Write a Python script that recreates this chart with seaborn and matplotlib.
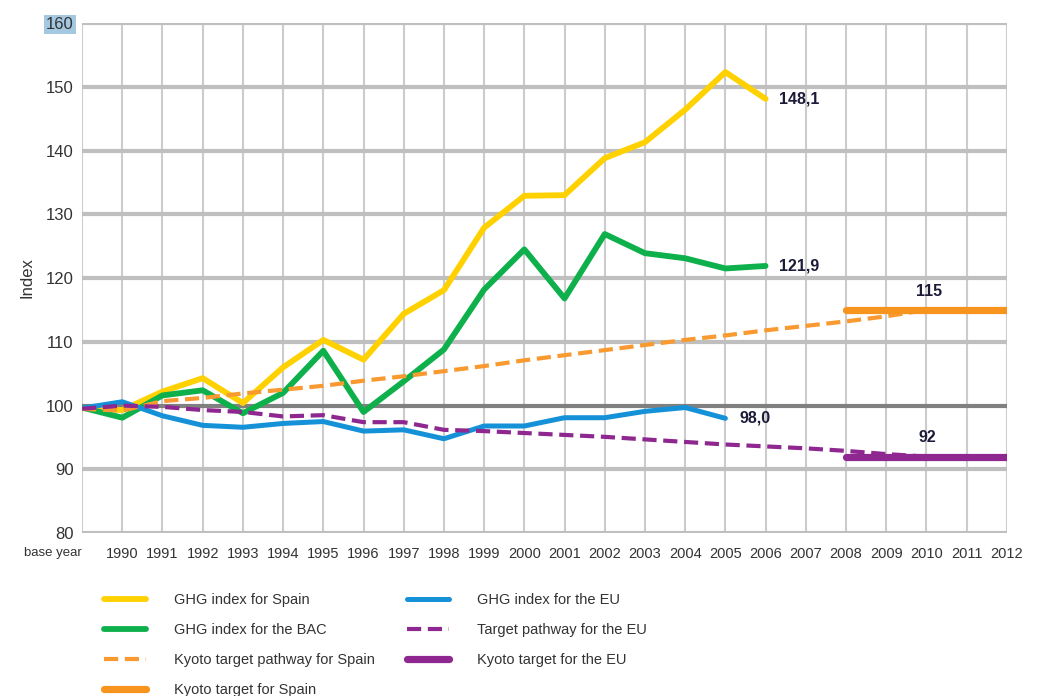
import numpy as np
import pandas as pd
import matplotlib
matplotlib.use("Agg")
import matplotlib.pyplot as plt
import seaborn as sns

# categorias del eje x
years = ["base year"] + [str(y) for y in range(1990, 2013)]

# GHG index Spain / BAC (base year .. 2006)
spain = [99.6, 99.3, 102.2, 104.3, 100.4, 106.0, 110.3, 107.2, 114.4, 118.1,
         127.9, 132.9, 133.0, 138.8, 141.3, 146.4, 152.3, 148.1]
bac = [99.7, 98.1, 101.6, 102.4, 98.8, 102.0, 108.6, 99.0, 103.8, 108.8,
       118.2, 124.5, 116.8, 126.9, 123.9, 123.1, 121.5, 121.9]
# GHG index EU (base year .. 2005)
eu = [99.6, 100.6, 98.4, 96.9, 96.6, 97.2, 97.5, 96.0, 96.2, 94.8,
      96.8, 96.8, 98.1, 98.1, 99.1, 99.7, 98.0]
# trayectorias objetivo (base year .. 2010)
spain_path = [99.5, 99.2, 100.7, 101.2, 101.9, 102.5, 103.1, 103.9, 104.6, 105.4,
              106.2, 107.1, 107.9, 108.7, 109.5, 110.3, 111.0, 111.8, 112.5, 113.2,
              114.0, 115.0]
eu_path = [99.5, 100.0, 99.8, 99.3, 99.0, 98.3, 98.5, 97.4, 97.4, 96.2,
           96.0, 95.7, 95.4, 95.1, 94.7, 94.3, 93.9, 93.6, 93.3, 92.9,
           92.4, 92.0]
# objetivos Kyoto 2008-2012
kyoto_years = ["2008", "2009", "2010", "2011", "2012"]
kyoto_spain = [115, 115, 115, 115, 115]
kyoto_eu = [92, 92, 92, 92, 92]

pos = {y: i for i, y in enumerate(years)}

def frame(labels, values):
    return pd.DataFrame({"x": [pos[l] for l in labels], "y": values})

sns.set_style("white")
plt.rcParams['font.family'] = ['Liberation Sans', 'DejaVu Sans']

fig = plt.figure(figsize=(10.39, 6.96), dpi=100)
ax = fig.add_axes([0.079, 0.234, 0.890, 0.733])

txt = '#333333'
ax.set_xlim(0, len(years) - 1)
ax.set_ylim(80, 160)
for i in range(len(years)):
    ax.axvline(i, color='#cccccc', lw=1.5, zorder=0)
for v in range(80, 161, 10):
    ax.axhline(v, color='#808080' if v == 100 else '#bfbfbf', lw=3, zorder=1)

c_yellow, c_green, c_blue = '#FFD100', '#0DB04B', '#1591D8'
c_orange, c_purple = '#F7941D', '#8E278F'

sns.lineplot(data=frame(years[:18], spain), x="x", y="y", ax=ax, color=c_yellow,
             lw=4.2, solid_capstyle='round', label="GHG index for Spain", zorder=3)
sns.lineplot(data=frame(years[:18], bac), x="x", y="y", ax=ax, color=c_green,
             lw=4.2, solid_capstyle='round', label="GHG index for the BAC", zorder=3)
sns.lineplot(data=frame(years[:17], eu), x="x", y="y", ax=ax, color=c_blue,
             lw=3.6, solid_capstyle='round', label="GHG index for the EU", zorder=3)
sns.lineplot(data=frame(years[:22], spain_path), x="x", y="y", ax=ax, color='#F89A30',
             lw=3.0, linestyle=(0, (3.4, 1.6)), label="Kyoto target pathway for Spain", zorder=4)
sns.lineplot(data=frame(years[:22], eu_path), x="x", y="y", ax=ax, color=c_purple,
             lw=3.0, linestyle=(0, (3.4, 1.6)), label="Target pathway for the EU", zorder=4)
sns.lineplot(data=frame(kyoto_years, kyoto_spain), x="x", y="y", ax=ax, color=c_orange,
             lw=5.2, solid_capstyle='round', label="Kyoto target for Spain", zorder=5)
sns.lineplot(data=frame(kyoto_years, kyoto_eu), x="x", y="y", ax=ax, color=c_purple,
             lw=5.2, solid_capstyle='round', label="Kyoto target for the EU", zorder=5)

# etiquetas de valores
lab = dict(fontsize=11.5, fontweight='bold', color='#1c1c3a', zorder=6)
ax.annotate("148,1", (pos["2006"], spain[-1]), xytext=(10, 0), textcoords='offset points',
            va='center', ha='left', **lab)
ax.annotate("121,9", (pos["2006"], bac[-1]), xytext=(10, 0), textcoords='offset points',
            va='center', ha='left', **lab)
ax.annotate("98,0", (pos["2005"], eu[-1]), xytext=(10, 0), textcoords='offset points',
            va='center', ha='left', **lab)
ax.annotate("115", (pos["2010"], kyoto_spain[2]), xytext=(2, 8), textcoords='offset points',
            va='bottom', ha='center', **lab)
ax.annotate("92", (pos["2010"], kyoto_eu[2]), xytext=(1, 8), textcoords='offset points',
            va='bottom', ha='center', **lab)

ax.set_xticks(range(len(years)))
ax.set_xticklabels(years, fontsize=10.5, color=txt)
ax.set_yticks(range(80, 161, 10))
ax.tick_params(axis='y', labelsize=12, colors=txt, length=0, pad=6)
ax.tick_params(axis='x', length=0, pad=10)
xt = ax.get_xticklabels()
xt[0].set_fontsize(9.5)
xt[0].set_horizontalalignment('right')
xt[0].set_x(0.5)
ax.get_yticklabels()[-1].set_bbox(dict(facecolor='#a3c8e0', edgecolor='none', pad=1.5))
ax.set_xlabel("")
ax.set_ylabel("Index", fontsize=12, color=txt, labelpad=8)
for s in ax.spines.values():
    s.set_visible(False)

handles, labels = ax.get_legend_handles_labels()
ax.get_legend().remove()
order = ["GHG index for Spain", "GHG index for the BAC", "Kyoto target pathway for Spain",
         "Kyoto target for Spain", "GHG index for the EU", "Target pathway for the EU",
         "Kyoto target for the EU"]
hmap = dict(zip(labels, handles))
leg = fig.legend([hmap[l] for l in order], order, ncol=2, frameon=False,
                 loc='upper left', bbox_to_anchor=(0.093, 0.159), fontsize=10.5,
                 handlelength=2.9, handletextpad=1.9, columnspacing=2.2,
                 labelspacing=1.1, borderpad=0, labelcolor=txt)

fig.savefig("out.png", dpi=100)
